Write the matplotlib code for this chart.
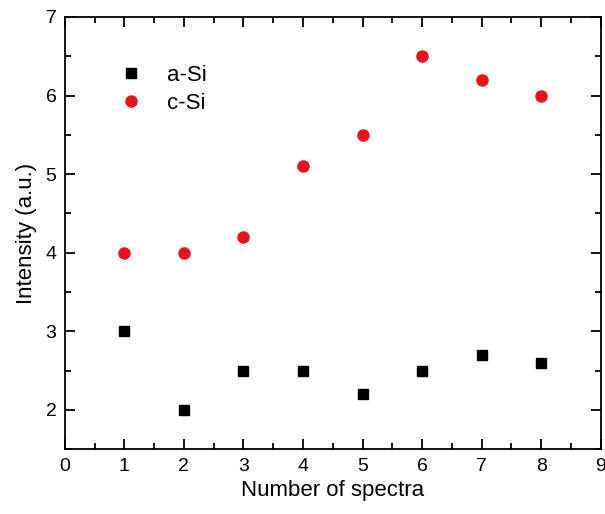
import numpy as np
import matplotlib.pyplot as plt
from matplotlib.ticker import MultipleLocator

plt.rcParams['font.family'] = ['Liberation Sans', 'DejaVu Sans']

# data
spectra = [1, 2, 3, 4, 5, 6, 7, 8]
a_si = [3.0, 2.0, 2.5, 2.5, 2.2, 2.5, 2.7, 2.6]
c_si = [4.0, 4.0, 4.2, 5.1, 5.5, 6.5, 6.2, 6.0]

fig = plt.figure(figsize=(6.05, 5.14), dpi=100)
ax = fig.add_axes([0.107, 0.126, 0.886, 0.841])

ax.plot(spectra, a_si, 's', color='black', markersize=7, label='a-Si')
ax.plot(spectra, c_si, 'o', color='#e8141c', markersize=8, label='c-Si')

ax.set_xlim(0, 9)
ax.set_ylim(1.5, 7)
ax.xaxis.set_major_locator(MultipleLocator(1))
ax.xaxis.set_minor_locator(MultipleLocator(0.5))
ax.yaxis.set_major_locator(MultipleLocator(1))
ax.yaxis.set_minor_locator(MultipleLocator(0.5))
ax.tick_params(which='both', direction='in', top=True, right=True, width=1.3)
ax.tick_params(which='major', length=7, labelsize=14, pad=6)
ax.tick_params(which='minor', length=4)
for s in ax.spines.values():
    s.set_linewidth(1.3)

ax.set_xlabel('Number of spectra', fontsize=16, labelpad=4)
ax.set_ylabel('Intensity (a.u.)', fontsize=16, labelpad=6)

ax.legend(loc='upper left', bbox_to_anchor=(0.045, 0.935), frameon=False,
          fontsize=16, handletextpad=0.6, labelspacing=0.3)

plt.savefig('out.png', dpi=100)
